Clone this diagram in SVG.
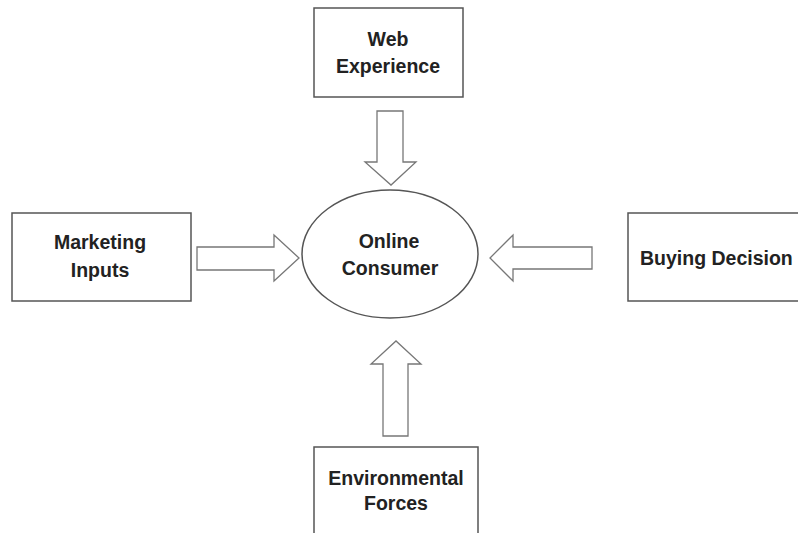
<svg xmlns="http://www.w3.org/2000/svg" width="798" height="533" viewBox="0 0 798 533">
  <style>
    .box { fill: #fff; stroke: #555; stroke-width: 1.5; }
    .arrow { fill: #fff; stroke: #777; stroke-width: 1.3; stroke-linejoin: miter; }
    .label { font-family: "Liberation Sans", Arial, sans-serif; font-weight: bold; font-size: 19.5px; fill: #222; text-anchor: middle; }
  </style>
  <rect width="798" height="533" fill="#fff"/>

  <g id="connectors">
    <!-- Web Experience -> Online Consumer -->
    <path class="arrow" d="M377,111 H403 V162 H416 L391,185 L365,162 H377 Z"/>
    <!-- Marketing Inputs -> Online Consumer -->
    <path class="arrow" d="M197,247 H274 V235 L299,258 L274,281 V270 H197 Z"/>
    <!-- Buying Decision -> Online Consumer -->
    <path class="arrow" d="M592,247 H513 V235 L490,258 L513,281 V269 H592 Z"/>
    <!-- Environmental Forces -> Online Consumer -->
    <path class="arrow" d="M383,436 V364 H371 L396,341 L421,364 H408 V436 Z"/>
  </g>

  <g id="web-experience">
    <rect class="box" x="314" y="8" width="149" height="89"/>
    <text class="label" x="388" y="46">Web</text>
    <text class="label" x="388" y="73">Experience</text>
  </g>

  <g id="marketing-inputs">
    <rect class="box" x="12" y="213" width="179" height="88"/>
    <text class="label" x="100" y="249">Marketing</text>
    <text class="label" x="100" y="277">Inputs</text>
  </g>

  <g id="online-consumer">
    <ellipse class="box" cx="390" cy="254" rx="88" ry="64"/>
    <text class="label" x="389" y="248">Online</text>
    <text class="label" x="390" y="275">Consumer</text>
  </g>

  <g id="buying-decision">
    <rect class="box" x="628" y="213" width="180" height="88"/>
    <text class="label" x="640" y="265" style="text-anchor:start">Buying Decision</text>
  </g>

  <g id="environmental-forces">
    <rect class="box" x="314" y="447" width="164" height="100"/>
    <text class="label" x="396" y="485">Environmental</text>
    <text class="label" x="396" y="510">Forces</text>
  </g>
</svg>
